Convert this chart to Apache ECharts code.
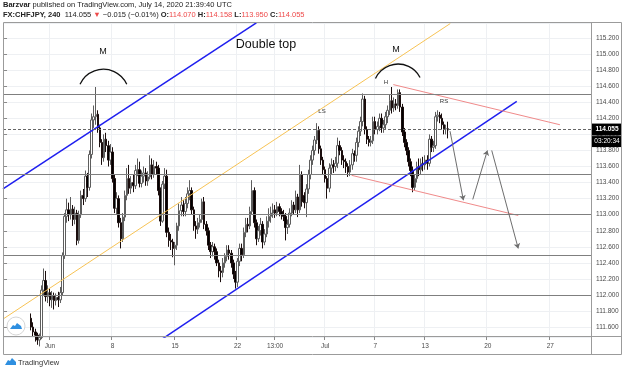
<!DOCTYPE html>
<html>
<head>
<meta charset="utf-8">
<script src="https://cdn.jsdelivr.net/npm/echarts@6/dist/echarts.min.js"></script>
<style>
html, body { margin: 0; padding: 0; background: #fff; }
#main { width: 625px; height: 371px; }
</style>
</head>
<body>
<div id="main"></div>
<script>
// time axis: one slot per 4H bar, future bars included
var slotCount = 282;
var tickSlots = [22, 52, 82, 112, 130, 154, 178, 202, 232, 262];
var tickNames = ['Jun', '8', '15', '22', '13:00', 'Jul', '7', '13', '20', '27'];

// drawn horizontal levels and last price
var priceLevels = [114.5, 113.5, 113.0, 112.5, 112.0];
var lastPrice = 114.055;
var countdown = '03:20:34';

// CHFJPY 4H candles [open, close, low, high], first one sits in slot 13
var firstSlot = 13;
var candles = [
  [111.71,111.60,111.56,111.77],[111.60,111.54,111.48,111.66],[111.54,111.50,111.42,111.58],
  [111.50,111.44,111.38,111.53],[111.44,111.47,111.36,111.52],[111.47,112.06,111.45,112.12],
  [112.06,112.18,112.00,112.33],[112.18,111.98,111.92,112.30],[111.98,112.03,111.90,112.12],
  [112.03,111.94,111.86,112.08],[111.94,111.99,111.84,112.05],[111.99,111.93,111.82,112.03],
  [111.93,111.97,111.87,112.02],[111.97,111.94,111.85,112.04],[111.94,112.03,111.90,112.10],
  [112.03,112.49,112.00,112.53],[112.49,112.98,112.45,113.02],[112.98,113.06,112.90,113.20],
  [113.06,113.00,112.92,113.15],[113.00,113.07,112.94,113.22],[113.07,112.94,112.86,113.12],
  [112.94,113.02,112.88,113.10],[113.02,112.68,112.62,113.06],[112.68,113.00,112.64,113.05],
  [113.00,113.24,112.96,113.30],[113.24,113.20,113.12,113.32],[113.20,113.48,113.16,113.55],
  [113.48,113.34,113.22,113.52],[113.34,113.75,113.30,113.80],[113.75,114.18,113.70,114.26],
  [114.18,114.22,114.08,114.36],[114.22,114.25,114.12,114.59],[114.25,114.08,114.02,114.30],
  [114.08,113.90,113.84,114.12],[113.90,113.71,113.62,113.94],[113.71,113.94,113.66,114.00],
  [113.94,113.86,113.78,114.02],[113.86,113.68,113.60,113.92],[113.68,113.78,113.62,113.88],
  [113.78,113.45,113.40,113.84],[113.45,113.08,113.02,113.50],[113.08,113.20,113.00,113.28],
  [113.20,112.90,112.84,113.24],[112.90,112.70,112.58,112.96],[112.70,112.97,112.66,113.02],
  [112.97,113.24,112.92,113.30],[113.24,113.45,113.18,113.58],[113.45,113.33,113.26,113.62],
  [113.33,113.40,113.26,113.48],[113.40,113.36,113.28,113.50],[113.36,113.55,113.32,113.62],
  [113.55,113.56,113.48,113.70],[113.56,113.39,113.34,113.66],[113.39,113.48,113.34,113.55],
  [113.48,113.52,113.40,113.60],[113.52,113.42,113.36,113.58],[113.42,113.47,113.36,113.54],
  [113.47,113.62,113.44,113.74],[113.62,113.50,113.44,113.70],[113.50,113.60,113.46,113.68],
  [113.60,113.58,113.50,113.66],[113.58,113.30,113.24,113.62],[113.30,112.92,112.86,113.34],
  [112.92,113.38,112.90,113.42],[113.38,113.48,113.32,113.58],[113.48,112.78,112.72,113.56],
  [112.78,112.68,112.60,112.84],[112.68,112.66,112.56,112.76],[112.66,112.58,112.47,112.70],
  [112.58,112.62,112.37,112.66],[112.62,112.86,112.56,112.90],[112.86,113.05,112.80,113.14],
  [113.05,113.12,112.98,113.22],[113.12,113.04,112.98,113.18],[113.04,113.14,112.98,113.22],
  [113.14,113.26,113.08,113.34],[113.26,113.30,113.18,113.43],[113.30,113.06,113.00,113.34],
  [113.06,112.86,112.80,113.10],[112.86,112.82,112.70,112.92],[112.82,112.90,112.76,112.96],
  [112.90,112.94,112.84,113.00],[112.94,113.16,112.90,113.20],[113.16,112.88,112.82,113.22],
  [112.88,112.80,112.74,112.92],[112.80,112.62,112.56,112.84],[112.62,112.54,112.46,112.66],
  [112.54,112.60,112.48,112.66],[112.60,112.54,112.44,112.64],[112.54,112.40,112.36,112.58],
  [112.40,112.30,112.22,112.44],[112.30,112.28,112.16,112.36],[112.28,112.40,112.22,112.46],
  [112.40,112.48,112.34,112.52],[112.48,112.56,112.42,112.62],[112.56,112.52,112.44,112.62],
  [112.52,112.40,112.34,112.56],[112.40,112.26,112.20,112.44],[112.26,112.16,112.08,112.30],
  [112.16,112.42,112.10,112.46],[112.42,112.58,112.36,112.64],[112.58,112.50,112.42,112.64],
  [112.50,112.78,112.46,112.84],[112.78,112.88,112.72,112.96],[112.88,112.86,112.78,112.96],
  [112.86,113.04,112.82,113.10],[113.04,113.30,113.00,113.43],[113.30,112.90,112.84,113.34],
  [112.90,112.70,112.62,112.94],[112.70,112.80,112.66,112.86],[112.80,112.88,112.74,112.96],
  [112.88,112.66,112.58,112.92],[112.66,112.76,112.62,112.82],[112.76,112.92,112.72,112.98],
  [112.92,112.98,112.84,113.08],[112.98,113.02,112.90,113.10],[113.02,113.06,112.96,113.14],
  [113.06,113.02,112.96,113.12],[113.02,113.10,112.98,113.16],[113.10,113.04,112.98,113.14],
  [113.04,113.00,112.94,113.08],[113.00,112.98,112.92,113.06],[112.98,112.84,112.68,113.02],
  [112.84,112.88,112.76,112.94],[112.88,113.02,112.84,113.08],[113.02,113.12,112.98,113.18],
  [113.12,113.06,113.00,113.16],[113.06,113.22,113.02,113.30],[113.22,113.06,112.97,113.26],
  [113.06,113.50,113.02,113.62],[113.50,113.16,113.10,113.54],[113.24,113.15,113.08,113.28],
  [113.15,113.32,112.97,113.38],[113.32,113.50,113.26,113.56],[113.50,113.68,113.44,113.74],
  [113.68,113.80,113.62,113.86],[113.80,113.93,113.74,113.98],[113.93,114.05,113.88,114.14],
  [114.05,113.82,113.76,114.10],[113.82,113.68,113.62,113.86],[113.68,113.56,113.50,113.72],
  [113.56,113.45,113.40,113.60],[113.45,113.33,113.20,113.48],[113.33,113.58,113.28,113.64],
  [113.58,113.62,113.50,113.70],[113.62,113.60,113.52,113.68],[113.60,113.64,113.54,113.72],
  [113.64,113.86,113.58,113.96],[113.86,113.80,113.74,113.92],[113.80,113.68,113.62,113.84],
  [113.68,113.66,113.58,113.74],[113.66,113.60,113.52,113.70],[113.60,113.53,113.47,113.64],
  [113.53,113.62,113.48,113.68],[113.62,113.76,113.56,113.82],[113.76,113.74,113.66,113.80],
  [113.74,113.90,113.66,113.96],[113.90,114.04,113.84,114.10],[114.04,114.16,113.98,114.22],
  [114.16,114.44,114.10,114.51],[114.44,114.06,114.00,114.48],[114.06,113.94,113.88,114.10],
  [113.94,113.90,113.85,113.98],[113.90,113.92,113.85,113.98],[113.92,114.16,113.88,114.22],
  [114.16,114.06,114.00,114.22],[114.06,114.10,114.00,114.16],[114.10,114.20,114.04,114.26],
  [114.20,114.08,114.02,114.26],[114.08,114.12,114.02,114.18],[114.12,114.22,114.06,114.28],
  [114.22,114.30,114.14,114.36],[114.30,114.42,114.24,114.50],[114.42,114.33,114.26,114.59],
  [114.33,114.38,114.28,114.46],[114.38,114.36,114.30,114.44],[114.36,114.52,114.32,114.56],
  [114.52,114.34,114.28,114.56],[114.34,114.03,113.98,114.38],[114.03,113.90,113.84,114.08],
  [113.90,113.80,113.74,113.94],[113.80,113.66,113.60,113.84],[113.66,113.55,113.48,113.70],
  [113.55,113.34,113.28,113.60],[113.34,113.45,113.30,113.50],[113.45,113.60,113.40,113.66],
  [113.60,113.56,113.48,113.70],[113.56,113.64,113.50,113.70],[113.64,113.62,113.54,113.72],
  [113.62,113.68,113.56,113.74],[113.68,113.64,113.56,113.74],[113.64,113.94,113.60,114.00],
  [113.94,113.84,113.78,113.98],[113.84,113.86,113.78,113.92],[113.86,114.22,113.82,114.28],
  [114.22,114.24,114.16,114.30],[114.24,114.20,114.14,114.28],[114.20,114.12,114.06,114.26],
  [114.12,114.07,114.00,114.16],[114.07,114.07,114.00,114.12],[114.070,114.055,113.950,114.158]
];

// drawn trend lines, [slot, price] end points
var orangeLine = [[-0.5, 111.70], [214, 115.38]];
var blueUpper = [[-0.5, 113.32], [121, 115.39]];
var blueLower = [[70, 111.35], [245.9, 114.41]];
var redUpper = [[186.7, 114.62], [266.6, 114.12]];
var redLower = [[166.7, 113.49], [246.6, 112.99]];
// projected path arrows
var pathLegs = [
  [[213.9, 114.04], [220.3, 113.18]],
  [[224.8, 113.19], [231.8, 113.80]],
  [[233.9, 113.80], [246.6, 112.58]]
];

var categories = [];
for (var i = 0; i < slotCount; i++) categories.push('');
tickSlots.forEach(function (s, k) { categories[s] = tickNames[k]; });

var candleData = categories.map(function (c, i) {
  var k = i - firstSlot;
  return (k >= 0 && k < candles.length) ? candles[k] : ['-', '-', '-', '-'];
});

function isTick(index, value) { return value !== ''; }

var red = '#ee4a4a';
var frame = '#9b9b9b';
var font = 'Liberation Sans, Arial, sans-serif';

function trend(data, color, width) {
  return {
    type: 'line', xAxisIndex: 1, yAxisIndex: 0, data: data,
    showSymbol: false, silent: true, clip: true, z: 4,
    lineStyle: { color: color, width: width }
  };
}

var myChart = echarts.init(document.getElementById('main'));
var option = {
  animation: false,
  backgroundColor: '#ffffff',
  textStyle: { fontFamily: font },
  grid: { left: 3, right: 34, top: 23, bottom: 34 },
  xAxis: [{
    type: 'category',
    data: categories,
    boundaryGap: true,
    axisLine: { show: false },
    axisTick: { show: true, interval: isTick, length: 3, lineStyle: { color: '#8a8a8a' } },
    axisLabel: { interval: isTick, fontSize: 6.5, color: '#4a4a4a', margin: 6 },
    splitLine: { show: true, interval: isTick, lineStyle: { color: '#eef0f3' } }
  }, {
    type: 'value', min: -0.5, max: slotCount - 0.5, show: false
  }],
  yAxis: {
    type: 'value', position: 'right',
    min: 111.477, max: 115.387, minInterval: 0.2, maxInterval: 0.2,
    axisLine: { show: false },
    axisTick: { show: true, length: 3, lineStyle: { color: '#8a8a8a' } },
    axisLabel: {
      fontSize: 6.5, color: '#4a4a4a', margin: 5,
      showMinLabel: false, showMaxLabel: false,
      formatter: function (v) { return v.toFixed(3); }
    },
    splitLine: { lineStyle: { color: '#eef0f3' } }
  },
  series: [{
    type: 'candlestick',
    data: candleData,
    barWidth: 2,
    z: 3,
    itemStyle: {
      color: '#ffffff', color0: '#000000',
      borderColor: '#5e5e5e', borderColor0: '#1a0d0d', borderWidth: 1
    },
    markLine: {
      silent: true, symbol: 'none', animation: false,
      data: priceLevels.map(function (v) {
        return { yAxis: v, lineStyle: { color: '#7f7f7f', width: 1, type: 'solid' }, label: { show: false } };
      }).concat([{
        yAxis: lastPrice,
        lineStyle: { color: '#666666', width: 1, type: [3, 2] },
        label: {
          show: true, position: 'end', distance: 1, padding: [12, 0, 0, 0],
          formatter: '{a|' + lastPrice.toFixed(3) + '}\n{b|' + countdown + '}',
          rich: {
            a: { backgroundColor: '#000000', color: '#ffffff', fontSize: 6.5, fontWeight: 'bold', lineHeight: 12, height: 12, width: 26, padding: [0, 2], align: 'center' },
            b: { backgroundColor: '#000000', color: '#ffffff', fontSize: 6.5, lineHeight: 12, height: 11, width: 26, padding: [0, 2], align: 'center' }
          }
        }
      }])
    }
  },
  trend(orangeLine, '#f7c355', 1),
  trend(blueUpper, '#1f1fef', 1.5),
  trend(blueLower, '#1f1fef', 1.5),
  trend(redUpper, '#f08a8a', 1),
  trend(redLower, '#f08a8a', 1),
  {
    type: 'line', xAxisIndex: 1, yAxisIndex: 0, data: [], silent: true, z: 4,
    markLine: {
      silent: true, animation: false,
      symbol: ['none', 'arrow'], symbolSize: 5,
      lineStyle: { color: '#6e6e6e', width: 1, type: 'solid' },
      label: { show: false },
      data: pathLegs.map(function (leg) { return [{ coord: leg[0] }, { coord: leg[1] }]; })
    }
  }],
  graphic: [
    // header
    { type: 'text', left: 3, top: 1, style: {
      text: '{b|Barzvar} published on TradingView.com, July 14, 2020 21:39:40 UTC',
      font: '7.5px ' + font, fill: '#222',
      rich: { b: { fontWeight: 'bold', fontSize: 7.5, fill: '#222' } } } },
    { type: 'text', left: 3, top: 11, style: {
      text: '{b|FX:CHFJPY, 240}  114.055 {r|▼} \u22120.015 (\u22120.01%) {b|O:}{r|114.070} {b|H:}{r|114.158} {b|L:}{r|113.950} {b|C:}{r|114.055}',
      font: '7.5px ' + font, fill: '#222',
      rich: { b: { fontWeight: 'bold', fontSize: 7.5, fill: '#222' }, r: { fontSize: 7.5, fill: red } } } },
    // frame
    { type: 'rect', shape: { x: 3.5, y: 22.5, width: 618, height: 332 }, style: { fill: 'none', stroke: frame, lineWidth: 1 }, z: 10 },
    { type: 'line', shape: { x1: 3, y1: 336.5, x2: 622, y2: 336.5 }, style: { stroke: frame, lineWidth: 1 }, z: 10 },
    { type: 'line', shape: { x1: 591.5, y1: 22, x2: 591.5, y2: 355 }, style: { stroke: frame, lineWidth: 1 }, z: 10 },
    // arcs and labels
    { type: 'arc', shape: { cx: 103.4, cy: 95, r: 25.7, startAngle: 3.571, endAngle: 5.854, clockwise: true }, style: { stroke: '#111', fill: 'none', lineWidth: 1.3 }, z: 10 },
    { type: 'arc', shape: { cx: 398, cy: 89, r: 24.9, startAngle: 3.58, endAngle: 5.80, clockwise: true }, style: { stroke: '#111', fill: 'none', lineWidth: 1.3 }, z: 10 },
    { type: 'text', x: 103, y: 52, style: { text: 'M', font: '9px ' + font, fill: '#111', align: 'center', verticalAlign: 'middle' }, z: 10 },
    { type: 'text', x: 396, y: 50, style: { text: 'M', font: '9px ' + font, fill: '#111', align: 'center', verticalAlign: 'middle' }, z: 10 },
    { type: 'text', x: 266, y: 45, style: { text: 'Double top', font: '12.5px ' + font, fill: '#111', align: 'center', verticalAlign: 'middle' }, z: 10 },
    { type: 'text', x: 386, y: 82, style: { text: 'H', font: '6px ' + font, fill: '#333', align: 'center', verticalAlign: 'middle' }, z: 10 },
    { type: 'text', x: 322, y: 111, style: { text: 'LS', font: '6px ' + font, fill: '#333', align: 'center', verticalAlign: 'middle' }, z: 10 },
    { type: 'text', x: 444, y: 101, style: { text: 'RS', font: '6px ' + font, fill: '#333', align: 'center', verticalAlign: 'middle' }, z: 10 },
    // in-chart logo
    { type: 'circle', shape: { cx: 16, cy: 326, r: 9 }, style: { fill: '#fff', stroke: '#d6d6d6', lineWidth: 1 }, z: 10 },
    { type: 'polygon', shape: { points: [[10, 329], [13, 325], [15, 326], [17, 323], [21, 326], [22, 329]] }, style: { fill: '#2e8fe0' }, z: 11 },
    // footer logo
    { type: 'polygon', shape: { points: [[5, 365], [8, 360], [10, 361], [12, 358], [16, 362], [16, 365]] }, style: { fill: '#2e8fe0' } },
    { type: 'text', left: 18, top: 359, style: { text: 'TradingView', font: '7.5px ' + font, fill: '#333' } }
  ]
};
myChart.setOption(option);
</script>
</body>
</html>
